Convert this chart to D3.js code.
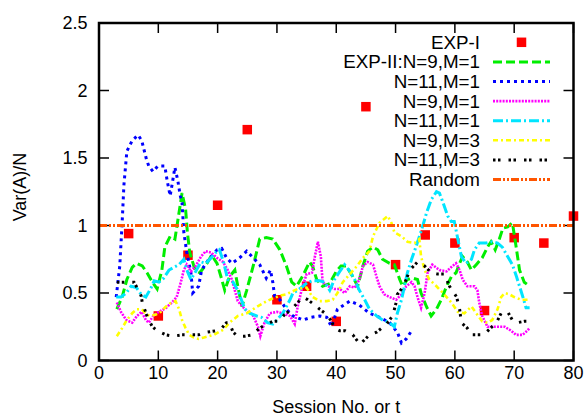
<!DOCTYPE html>
<html><head><meta charset="utf-8">
<script src="https://cdn.jsdelivr.net/npm/d3@7"></script>
<style>body{margin:0;background:#fff}svg{display:block}text{font-family:"Liberation Sans",Arial,Helvetica,sans-serif;fill:#000}</style>
</head><body><svg id="c" width="587" height="418"></svg>
<script>
const xTicks = [0,10,20,30,40,50,60,70,80];
const yTicks = [0,0.5,1,1.5,2,2.5];
const yTickLabels = ["0","0.5","1","1.5","2","2.5"];
const xLabel = "Session No. or t";
const yLabel = "Var(A)/N";

const expI = [[5,0.94],[10,0.33],[15,0.78],[20,1.15],[25,1.71],[30,0.45],[35,0.55],[40,0.29],[45,1.88],[50,0.71],[55,0.93],[60,0.87],[65,0.37],[70,0.91],[75,0.87],[80,1.07]];

const expII_N9M1 = [[3,0.38],[3.9,0.47],[4.7,0.60],[5.6,0.69],[6.3,0.72],[7.3,0.70],[8.1,0.65],[9,0.58],[9.8,0.53],[10.6,0.67],[11.1,0.84],[12,0.92],[12.8,0.90],[13.3,1.04],[14,1.24],[14.6,1.12],[14.9,0.95],[15.3,0.80],[16.2,0.67],[17,0.65],[18.2,0.72],[19,0.78],[19.9,0.72],[20.7,0.60],[21.2,0.52],[22,0.62],[22.9,0.67],[23.4,0.55],[24.1,0.40],[24.9,0.52],[26,0.70],[27.1,0.90],[28.2,0.91],[29.3,0.90],[30.5,0.82],[31.6,0.70],[32.5,0.58],[33.3,0.55],[34.4,0.63],[35.5,0.73],[36,0.70],[36.7,0.60],[37.7,0.55],[38.9,0.57],[40,0.66],[40.8,0.70],[41.7,0.70],[42.8,0.62],[43.6,0.55],[44.5,0.70],[45.3,0.81],[46.2,0.84],[47,0.82],[47.8,0.75],[49,0.72],[49.8,0.71],[50.7,0.60],[51.2,0.55],[52,0.60],[52.9,0.61],[53.7,0.60],[54.3,0.50],[55.2,0.40],[56,0.33],[56.9,0.38],[57.7,0.45],[58.6,0.55],[59.4,0.62],[60.2,0.65],[60.8,0.72],[61.3,0.77],[62.1,0.73],[62.8,0.67],[63.6,0.71],[64.6,0.76],[65.5,0.84],[66.1,0.88],[66.8,0.82],[67.5,0.90],[68.1,0.98],[68.9,0.99],[69.7,1.02],[70.3,0.85],[70.9,0.67],[71.7,0.58],[72.6,0.55]];

const n11m1a = [[2.9,0.47],[3.5,0.70],[3.9,1.02],[4.2,1.30],[4.7,1.55],[5.6,1.63],[6.6,1.67],[7.2,1.63],[8,1.49],[8.4,1.44],[9.1,1.40],[9.9,1.44],[11.1,1.44],[11.5,1.33],[12,1.22],[12.8,1.43],[13.3,1.33],[13.7,1.22],[14,1.17],[14.3,0.95],[14.8,0.80],[15.5,0.65],[15.8,0.50],[16.8,0.55],[17.3,0.67],[18.5,0.75],[19.9,0.82],[20.7,0.83],[21.5,0.76],[22.4,0.72],[23.7,0.76],[24.9,0.81],[26,0.76],[27.1,0.71],[28.2,0.61],[28.9,0.67],[29.3,0.58],[29.6,0.48],[30.5,0.45],[31.6,0.38],[32.7,0.33],[34.4,0.30],[35.8,0.32],[37.2,0.33],[38.4,0.32],[39.2,0.25],[40.2,0.38],[42.3,0.44],[43.9,0.41],[45.6,0.35],[47.3,0.32],[49,0.28],[50.3,0.21],[51,0.13],[51.8,0.16],[52.7,0.22]];

const n9m1 = [[3,0.43],[3.7,0.36],[4.6,0.30],[5.6,0.28],[6.4,0.33],[7.2,0.36],[7.9,0.30],[8.4,0.28],[9.3,0.34],[10.1,0.36],[11.3,0.39],[12.3,0.43],[13.1,0.47],[13.8,0.58],[14.3,0.67],[14.8,0.71],[15.5,0.66],[16.3,0.70],[17.2,0.77],[18,0.81],[18.9,0.80],[19.9,0.76],[20.9,0.73],[21.7,0.67],[22.4,0.60],[22.9,0.52],[23.4,0.44],[24.2,0.40],[25.1,0.36],[25.9,0.34],[26.8,0.25],[27.2,0.18],[27.9,0.28],[28.8,0.35],[30,0.36],[31,0.35],[32.2,0.33],[33,0.27],[33.5,0.40],[34.2,0.53],[35,0.64],[35.9,0.65],[36.4,0.77],[36.9,0.88],[37.4,0.77],[37.7,0.58],[38.6,0.55],[39.7,0.53],[40.6,0.53],[41.4,0.50],[42.3,0.55],[43.1,0.54],[43.9,0.60],[44.5,0.70],[45.3,0.73],[46.2,0.71],[46.8,0.62],[47.3,0.55],[48.1,0.49],[49,0.47],[50.1,0.45],[51,0.49],[51.8,0.55],[52.7,0.58],[53.2,0.55],[53.7,0.47],[54.3,0.39],[54.9,0.50],[55.4,0.65],[56.2,0.71],[57.4,0.67],[58.6,0.66],[59.6,0.70],[60.2,0.72],[60.8,0.67],[61.3,0.60],[62.1,0.55],[63.3,0.55],[63.8,0.52],[64.1,0.43],[64.6,0.33],[65.5,0.25],[67,0.25],[68.4,0.25],[69.5,0.22],[70.3,0.19],[71.4,0.19],[72.2,0.22],[72.6,0.24]];

const n11m1b = [[2.9,0.47],[3.7,0.47],[4.6,0.50],[5.4,0.55],[6.3,0.54],[7.1,0.49],[7.9,0.47],[8.8,0.54],[9.3,0.59],[10.1,0.58],[10.9,0.61],[11.8,0.67],[12.6,0.69],[13.5,0.71],[14.3,0.75],[14.8,0.67],[15.5,0.60],[16.3,0.66],[17.2,0.73],[18,0.72],[18.9,0.76],[19.7,0.80],[20.3,0.82],[21,0.73],[21.7,0.60],[22.6,0.58],[23.4,0.52],[24,0.45],[24.6,0.38],[25.4,0.35],[26.6,0.33],[27.4,0.32],[28.4,0.28],[29.3,0.27],[30.2,0.31],[31,0.35],[31.6,0.40],[32.2,0.45],[32.7,0.50],[33.5,0.52],[34.4,0.55],[35.2,0.58],[36,0.59],[37.2,0.59],[38,0.58],[38.9,0.52],[39.7,0.60],[40.6,0.66],[41.4,0.71],[42.3,0.66],[43.1,0.60],[43.9,0.52],[44.8,0.45],[45.6,0.38],[46.8,0.33],[47.8,0.30],[49,0.28],[49.8,0.25],[50.3,0.35],[51,0.45],[51.5,0.55],[52,0.65],[52.7,0.75],[53.5,0.85],[54.4,0.97],[55.2,1.09],[56,1.19],[56.9,1.25],[57.4,1.24],[58,1.17],[58.8,1.07],[59.4,1.03],[59.9,1.03],[60.5,0.90],[61.1,0.77],[61.9,0.72],[62.8,0.75],[63.3,0.82],[64.1,0.87],[65.3,0.87],[66.3,0.88],[67.2,0.87],[68,0.84],[68.9,0.77],[69.7,0.71],[70.4,0.62],[70.9,0.55],[71.4,0.48],[72,0.39],[72.6,0.39]];

const n9m3 = [[3,0.18],[3.9,0.24],[4.7,0.30],[5.6,0.35],[6.4,0.38],[7.2,0.38],[8,0.34],[8.7,0.33],[9.6,0.34],[10.4,0.36],[11.3,0.40],[12.2,0.43],[12.9,0.44],[13.5,0.38],[14,0.30],[14.6,0.24],[15.2,0.19],[16,0.17],[16.8,0.16],[17.7,0.17],[18.5,0.18],[19.4,0.19],[20.2,0.21],[21,0.23],[22,0.28],[23.4,0.33],[24.9,0.35],[26,0.38],[27.1,0.41],[28.3,0.44],[29.3,0.46],[30.5,0.48],[31.6,0.49],[32.5,0.51],[33.5,0.53],[35,0.54],[36,0.47],[37.2,0.44],[38.4,0.44],[39.4,0.45],[40.2,0.50],[41.1,0.58],[42.3,0.64],[43.5,0.70],[44.5,0.76],[45.6,0.81],[46.2,0.92],[47.3,1.02],[48.7,1.07],[49.3,1.02],[49.8,0.95],[51,0.92],[52,0.88],[53.2,0.87],[54,0.90],[54.3,0.77],[54.9,0.67],[55.7,0.60],[56.9,0.55],[58.2,0.49],[59.4,0.43],[60.5,0.36],[61.6,0.35],[62.8,0.40],[63.6,0.35],[64.6,0.29],[65.5,0.28],[66.3,0.30],[67.2,0.38],[67.8,0.47],[68.4,0.50],[69.2,0.49],[70,0.47],[71.2,0.45],[72.6,0.45]];

const n11m3 = [[3,0.58],[4,0.58],[5,0.58],[5.9,0.58],[6.4,0.54],[7.1,0.48],[7.3,0.43],[8,0.34],[8.4,0.30],[9,0.25],[9.8,0.22],[11.3,0.19],[12.6,0.18],[14,0.19],[15.5,0.19],[16.8,0.19],[18.2,0.21],[19.7,0.22],[20.7,0.24],[21.5,0.28],[22,0.28],[22.6,0.21],[23.4,0.18],[24.6,0.18],[25.8,0.19],[26.3,0.21],[27.1,0.24],[28.3,0.27],[29.3,0.29],[30.2,0.29],[31.3,0.34],[32.5,0.38],[33.5,0.43],[34.4,0.47],[35.2,0.45],[36.4,0.41],[37.2,0.38],[38.4,0.34],[39.2,0.29],[39.7,0.24],[40.6,0.22],[41.5,0.22],[42.8,0.19],[44,0.12],[45.6,0.19],[46.8,0.21],[48.5,0.27],[49.5,0.33],[50.1,0.43],[50.3,0.49],[51,0.53],[51.8,0.60],[52.4,0.67],[53.7,0.73],[54.9,0.70],[56,0.65],[57.1,0.64],[58.2,0.64],[59.1,0.55],[60.3,0.47],[60.8,0.38],[61.1,0.28],[62.1,0.24],[62.8,0.19],[64.5,0.19],[65.3,0.21],[67,0.28],[67.8,0.35],[68.9,0.36],[69.7,0.30],[70.5,0.28],[71.7,0.29],[72.6,0.29]];

const randomLine = [[0,1],[80,1]];

const legendNames = ["EXP-I","EXP-II:N=9,M=1","N=11,M=1","N=9,M=1","N=11,M=1","N=9,M=3","N=11,M=3","Random"];
const lineSeries = [expII_N9M1, n11m1a, n9m1, n11m1b, n9m3, n11m3, randomLine];
const lineColors = ["#00ee00","#0000ff","#ff00ff","#00e5ff","#ffff00","#000000","#ff5500"];
const lineDash = ["9,4","3,4","2,1.2","10,3,2,3","5,3,2,3","2.5,2.5,2.5,8","8,2,2,2,2,2"];
const lineW = [3,3,2.6,3,2.6,3,3];

const svg = d3.select("#c");
const L=99, R=573.5, T=23, B=360.5;
const x = d3.scaleLinear().domain([0,80]).range([L,R]);
const y = d3.scaleLinear().domain([0,2.5]).range([B,T]);
const FS = 18;

const tk = 10;
const tg = svg.append("g").attr("stroke","#000").attr("stroke-width",1.5);
xTicks.forEach(t=>{
  tg.append("line").attr("x1",x(t)).attr("x2",x(t)).attr("y1",B).attr("y2",B-tk);
  tg.append("line").attr("x1",x(t)).attr("x2",x(t)).attr("y1",T).attr("y2",T+tk);
});
yTicks.forEach(t=>{
  tg.append("line").attr("x1",L).attr("x2",L+tk).attr("y1",y(t)).attr("y2",y(t));
  tg.append("line").attr("x1",R).attr("x2",R-tk).attr("y1",y(t)).attr("y2",y(t));
});
svg.selectAll(".xt").data(xTicks).enter().append("text").attr("x",d=>x(d)).attr("y",378.5)
  .attr("text-anchor","middle").attr("font-size",FS).text(d=>d);
svg.selectAll(".yt").data(yTicks).enter().append("text").attr("x",87.5).attr("y",d=>y(d))
  .attr("dy","0.35em").attr("text-anchor","end").attr("font-size",FS).text((d,i)=>yTickLabels[i]);
svg.append("text").attr("x",(L+R)/2).attr("y",413).attr("text-anchor","middle").attr("font-size",FS).text(xLabel);
svg.append("text").attr("transform","translate(26,187) rotate(-90)").attr("text-anchor","middle").attr("font-size",FS).text(yLabel);

const ms = 9.5;
svg.append("g").selectAll("rect").data(expI).enter().append("rect")
  .attr("x",d=>x(d[0])-ms/2).attr("y",d=>y(d[1])-ms/2).attr("width",ms).attr("height",ms).attr("fill","#ff0000");

const line = d3.line().x(d=>x(d[0])).y(d=>y(d[1]));
lineSeries.forEach((s,i)=>{
  svg.append("path").datum(s).attr("d",line).attr("fill","none").attr("stroke",lineColors[i])
    .attr("stroke-width",lineW[i]).attr("stroke-dasharray",lineDash[i]);
});

svg.append("rect").attr("x",L).attr("y",T).attr("width",R-L).attr("height",B-T)
  .attr("fill","none").attr("stroke","#000").attr("stroke-width",2.5);

const lx = 480, ly0 = 42.3, ldy = 19.6, s1 = 493, s2 = 550;
legendNames.forEach((n,i)=>{
  const yy = ly0 + i*ldy;
  svg.append("text").attr("x",lx).attr("y",yy).attr("dy","0.35em").attr("text-anchor","end").attr("font-size",18.8).text(n);
  if(i===0){
    svg.append("rect").attr("x",(s1+s2)/2-ms/2).attr("y",yy-ms/2).attr("width",ms).attr("height",ms).attr("fill","#ff0000");
  } else {
    const k=i-1;
    svg.append("line").attr("x1",s1).attr("x2",s2).attr("y1",yy).attr("y2",yy).attr("stroke",lineColors[k])
      .attr("stroke-width",lineW[k]).attr("stroke-dasharray",lineDash[k]);
  }
});
</script></body></html>
